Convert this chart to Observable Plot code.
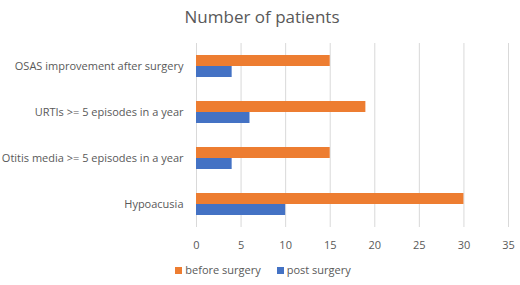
<!DOCTYPE html>
<html>
<head>
<meta charset="utf-8">
<script src="https://cdn.jsdelivr.net/npm/d3@7"></script>
<script src="https://cdn.jsdelivr.net/npm/@observablehq/plot@0.6"></script>
<style>
  body { margin: 0; background: #fff; font-family: "Open Sans", sans-serif; color: #595959; }
  #wrap { width: 520px; height: 285px; position: relative; overflow: hidden; }
  #title { height: 34px; line-height: 34px; text-align: center; font-size: 17px; color: #595959; padding-left: 4px; }
  #legend { display: flex; justify-content: center; gap: 16px; font-size: 11px; margin-top: 6px; padding-left: 6px; }
  #legend span.sw { display: inline-block; width: 7px; height: 7px; margin-right: 3px; vertical-align: 0px; }
</style>
</head>
<body>
<div id="wrap">
  <div id="title">Number of patients</div>
  <div id="chart"></div>
  <div id="legend"></div>
</div>
<script>
const categories = [
  "OSAS improvement after surgery",
  "URTIs >= 5 episodes in a year",
  "Otitis media >= 5 episodes in a year",
  "Hypoacusia"
];
const beforeSurgery = [15, 19, 15, 30];
const postSurgery = [4, 6, 4, 10];
const seriesNames = ["before surgery", "post surgery"];
const seriesColors = ["#ED7D31", "#4472C4"];
const xTicks = [0, 5, 10, 15, 20, 25, 30, 35];

const data = categories.flatMap((c, i) => [
  {category: c, series: seriesNames[0], value: beforeSurgery[i]},
  {category: c, series: seriesNames[1], value: postSurgery[i]}
]);

const chart = Plot.plot({
  width: 520,
  height: 222,
  marginLeft: 196,
  marginRight: 12,
  marginTop: 8,
  marginBottom: 28,
  style: {fontFamily: "Open Sans, sans-serif", fontSize: "11px", color: "#595959", background: "#fff"},
  x: {domain: [0, 35], axis: null},
  y: {domain: seriesNames, axis: null, paddingInner: 0, paddingOuter: 1},
  fy: {domain: categories, padding: 0, axis: null},
  color: {domain: seriesNames, range: seriesColors},
  marks: [
    Plot.ruleX(xTicks, {stroke: "#d9d9d9", strokeWidth: 1}),
    Plot.barX(data, {fy: "category", y: "series", x: "value", fill: "series"}),
    Plot.axisX({ticks: xTicks, tickSize: 0, tickPadding: 14, label: null}),
    Plot.axisFy({anchor: "left", tickSize: 0, tickPadding: 13, label: null})
  ]
});
document.getElementById("chart").appendChild(chart);

const legend = document.getElementById("legend");
seriesNames.forEach((s, i) => {
  const item = document.createElement("div");
  const sw = document.createElement("span");
  sw.className = "sw";
  sw.style.background = seriesColors[i];
  item.appendChild(sw);
  item.appendChild(document.createTextNode(s));
  legend.appendChild(item);
});
</script>
</body>
</html>
